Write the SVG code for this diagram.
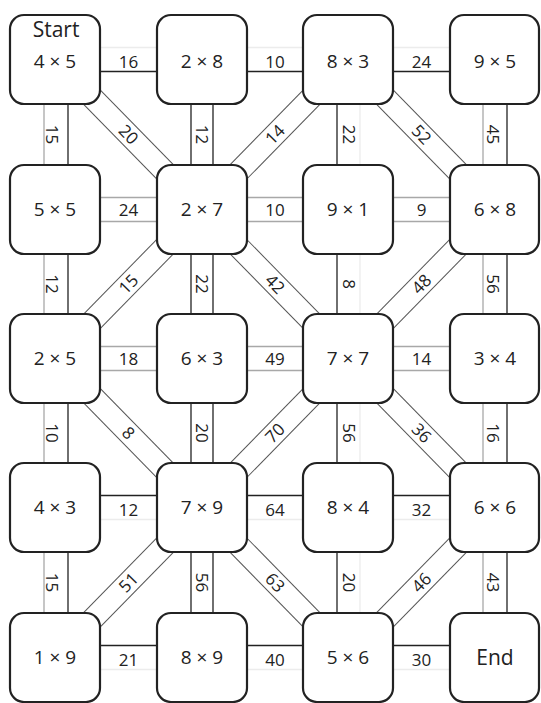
<svg xmlns="http://www.w3.org/2000/svg" width="541" height="703" viewBox="0 0 541 703">
<style>
  .node rect { fill: #fff; stroke: #222; stroke-width: 2.2; }
  .node text { font-family: "Open Sans", "DejaVu Sans", sans-serif; font-size: 19px; fill: #222; text-anchor: middle; }
  .node text.big { font-size: 21px; }
  .c line { stroke-width: 1.3; }
  .k { stroke: #222; }
  .g { stroke: #a8a8a8; }
  .n { stroke: #ececec; }
  .d { stroke: #555; stroke-width: 1 !important; }
  .c text { font-family: "Open Sans", "DejaVu Sans", sans-serif; font-size: 17px; fill: #222; text-anchor: middle; }
</style>
<rect width="541" height="703" fill="#fff"/>
<g id="connectors">
  <!-- Row 1 horizontals -->
  <g class="c" transform="translate(128.5,59.5)"><line class="n" x1="-74" y1="-12" x2="74" y2="-12"/><line class="k" x1="-74" y1="12" x2="74" y2="12"/><text y="8">16</text></g>
  <g class="c" transform="translate(275,59.5)"><line class="n" x1="-74" y1="-12" x2="74" y2="-12"/><line class="k" x1="-74" y1="12" x2="74" y2="12"/><text y="8">10</text></g>
  <g class="c" transform="translate(421.5,59.5)"><line class="n" x1="-74" y1="-12" x2="74" y2="-12"/><line class="k" x1="-74" y1="12" x2="74" y2="12"/><text y="8">24</text></g>
  <!-- Row 2 horizontals -->
  <g class="c" transform="translate(128.5,209.5)"><line class="g" x1="-74" y1="-12" x2="74" y2="-12"/><line class="g" x1="-74" y1="12" x2="74" y2="12"/><text y="6">24</text></g>
  <g class="c" transform="translate(275,209.5)"><line class="g" x1="-74" y1="-12" x2="74" y2="-12"/><line class="g" x1="-74" y1="12" x2="74" y2="12"/><text y="6">10</text></g>
  <g class="c" transform="translate(421.5,209.5)"><line class="g" x1="-74" y1="-12" x2="74" y2="-12"/><line class="g" x1="-74" y1="12" x2="74" y2="12"/><text y="6">9</text></g>
  <!-- Row 3 horizontals -->
  <g class="c" transform="translate(128.5,358.5)"><line class="g" x1="-74" y1="-12" x2="74" y2="-12"/><line class="g" x1="-74" y1="12" x2="74" y2="12"/><text y="6">18</text></g>
  <g class="c" transform="translate(275,358.5)"><line class="g" x1="-74" y1="-12" x2="74" y2="-12"/><line class="g" x1="-74" y1="12" x2="74" y2="12"/><text y="6">49</text></g>
  <g class="c" transform="translate(421.5,358.5)"><line class="g" x1="-74" y1="-12" x2="74" y2="-12"/><line class="g" x1="-74" y1="12" x2="74" y2="12"/><text y="6">14</text></g>
  <!-- Row 4 horizontals -->
  <g class="c" transform="translate(128.5,507.5)"><line class="k" x1="-74" y1="-12" x2="74" y2="-12"/><line class="n" x1="-74" y1="12" x2="74" y2="12"/><text y="8">12</text></g>
  <g class="c" transform="translate(275,507.5)"><line class="k" x1="-74" y1="-12" x2="74" y2="-12"/><line class="n" x1="-74" y1="12" x2="74" y2="12"/><text y="8">64</text></g>
  <g class="c" transform="translate(421.5,507.5)"><line class="k" x1="-74" y1="-12" x2="74" y2="-12"/><line class="n" x1="-74" y1="12" x2="74" y2="12"/><text y="8">32</text></g>
  <!-- Row 5 horizontals -->
  <g class="c" transform="translate(128.5,657.5)"><line class="k" x1="-74" y1="-12" x2="74" y2="-12"/><line class="n" x1="-74" y1="12" x2="74" y2="12"/><text y="8">21</text></g>
  <g class="c" transform="translate(275,657.5)"><line class="k" x1="-74" y1="-12" x2="74" y2="-12"/><line class="n" x1="-74" y1="12" x2="74" y2="12"/><text y="8">40</text></g>
  <g class="c" transform="translate(421.5,657.5)"><line class="k" x1="-74" y1="-12" x2="74" y2="-12"/><line class="n" x1="-74" y1="12" x2="74" y2="12"/><text y="8">30</text></g>
  <!-- Column 1 verticals (local +y = screen left) -->
  <g class="c" transform="translate(56,134.5) rotate(90)"><line class="g" x1="-75" y1="12" x2="75" y2="12"/><line class="k" x1="-75" y1="-12" x2="75" y2="-12"/><text y="10">15</text></g>
  <g class="c" transform="translate(56,284) rotate(90)"><line class="g" x1="-75" y1="12" x2="75" y2="12"/><line class="k" x1="-75" y1="-12" x2="75" y2="-12"/><text y="10">12</text></g>
  <g class="c" transform="translate(56,433) rotate(90)"><line class="g" x1="-75" y1="12" x2="75" y2="12"/><line class="k" x1="-75" y1="-12" x2="75" y2="-12"/><text y="10">10</text></g>
  <g class="c" transform="translate(56,582.5) rotate(90)"><line class="g" x1="-75" y1="12" x2="75" y2="12"/><line class="k" x1="-75" y1="-12" x2="75" y2="-12"/><text y="10">15</text></g>
  <!-- Column 2 verticals -->
  <g class="c" transform="translate(202,134.5) rotate(90)"><line class="k" x1="-75" y1="11" x2="75" y2="11"/><line class="k" x1="-75" y1="-11" x2="75" y2="-11"/><text y="6">12</text></g>
  <g class="c" transform="translate(202,284) rotate(90)"><line class="k" x1="-75" y1="11" x2="75" y2="11"/><line class="k" x1="-75" y1="-11" x2="75" y2="-11"/><text y="6">22</text></g>
  <g class="c" transform="translate(202,433) rotate(90)"><line class="k" x1="-75" y1="11" x2="75" y2="11"/><line class="k" x1="-75" y1="-11" x2="75" y2="-11"/><text y="6">20</text></g>
  <g class="c" transform="translate(202,582.5) rotate(90)"><line class="k" x1="-75" y1="11" x2="75" y2="11"/><line class="k" x1="-75" y1="-11" x2="75" y2="-11"/><text y="6">56</text></g>
  <!-- Column 3 verticals -->
  <g class="c" transform="translate(348,134.5) rotate(90)"><line class="k" x1="-75" y1="11" x2="75" y2="11"/><line class="n" x1="-75" y1="-12" x2="75" y2="-12"/><text y="5">22</text></g>
  <g class="c" transform="translate(348,284) rotate(90)"><line class="k" x1="-75" y1="11" x2="75" y2="11"/><line class="n" x1="-75" y1="-12" x2="75" y2="-12"/><text y="5">8</text></g>
  <g class="c" transform="translate(348,433) rotate(90)"><line class="k" x1="-75" y1="11" x2="75" y2="11"/><line class="n" x1="-75" y1="-12" x2="75" y2="-12"/><text y="5">56</text></g>
  <g class="c" transform="translate(348,582.5) rotate(90)"><line class="k" x1="-75" y1="11" x2="75" y2="11"/><line class="n" x1="-75" y1="-12" x2="75" y2="-12"/><text y="5">20</text></g>
  <!-- Column 4 verticals -->
  <g class="c" transform="translate(495,134.5) rotate(90)"><line class="g" x1="-75" y1="12" x2="75" y2="12"/><line class="k" x1="-75" y1="-12" x2="75" y2="-12"/><text y="8">45</text></g>
  <g class="c" transform="translate(495,284) rotate(90)"><line class="g" x1="-75" y1="12" x2="75" y2="12"/><line class="k" x1="-75" y1="-12" x2="75" y2="-12"/><text y="8">56</text></g>
  <g class="c" transform="translate(495,433) rotate(90)"><line class="g" x1="-75" y1="12" x2="75" y2="12"/><line class="k" x1="-75" y1="-12" x2="75" y2="-12"/><text y="8">16</text></g>
  <g class="c" transform="translate(495,582.5) rotate(90)"><line class="g" x1="-75" y1="12" x2="75" y2="12"/><line class="k" x1="-75" y1="-12" x2="75" y2="-12"/><text y="8">43</text></g>
  <!-- Diagonals -->
  <g class="c" transform="translate(128.5,134.5) rotate(45.6)"><line class="d" x1="-105" y1="-11" x2="105" y2="-11"/><line class="d" x1="-105" y1="11" x2="105" y2="11"/><text y="6">20</text></g>
  <g class="c" transform="translate(275,134.5) rotate(-45.6)"><line class="d" x1="-105" y1="-11" x2="105" y2="-11"/><line class="d" x1="-105" y1="11" x2="105" y2="11"/><text y="6">14</text></g>
  <g class="c" transform="translate(421.5,134.5) rotate(45.6)"><line class="d" x1="-105" y1="-11" x2="105" y2="-11"/><line class="d" x1="-105" y1="11" x2="105" y2="11"/><text y="6">52</text></g>
  <g class="c" transform="translate(128.5,284) rotate(-45.6)"><line class="d" x1="-105" y1="-11" x2="105" y2="-11"/><line class="d" x1="-105" y1="11" x2="105" y2="11"/><text y="6">15</text></g>
  <g class="c" transform="translate(275,284) rotate(45.6)"><line class="d" x1="-105" y1="-11" x2="105" y2="-11"/><line class="d" x1="-105" y1="11" x2="105" y2="11"/><text y="6">42</text></g>
  <g class="c" transform="translate(421.5,284) rotate(-45.6)"><line class="d" x1="-105" y1="-11" x2="105" y2="-11"/><line class="d" x1="-105" y1="11" x2="105" y2="11"/><text y="6">48</text></g>
  <g class="c" transform="translate(128.5,433) rotate(45.6)"><line class="d" x1="-105" y1="-11" x2="105" y2="-11"/><line class="d" x1="-105" y1="11" x2="105" y2="11"/><text y="6">8</text></g>
  <g class="c" transform="translate(275,433) rotate(-45.6)"><line class="d" x1="-105" y1="-11" x2="105" y2="-11"/><line class="d" x1="-105" y1="11" x2="105" y2="11"/><text y="6">70</text></g>
  <g class="c" transform="translate(421.5,433) rotate(45.6)"><line class="d" x1="-105" y1="-11" x2="105" y2="-11"/><line class="d" x1="-105" y1="11" x2="105" y2="11"/><text y="6">36</text></g>
  <g class="c" transform="translate(128.5,582.5) rotate(-45.6)"><line class="d" x1="-105" y1="-11" x2="105" y2="-11"/><line class="d" x1="-105" y1="11" x2="105" y2="11"/><text y="6">51</text></g>
  <g class="c" transform="translate(275,582.5) rotate(45.6)"><line class="d" x1="-105" y1="-11" x2="105" y2="-11"/><line class="d" x1="-105" y1="11" x2="105" y2="11"/><text y="6">63</text></g>
  <g class="c" transform="translate(421.5,582.5) rotate(-45.6)"><line class="d" x1="-105" y1="-11" x2="105" y2="-11"/><line class="d" x1="-105" y1="11" x2="105" y2="11"/><text y="6">46</text></g>
</g>
<g id="n-4x5" class="node"><rect x="10" y="15" width="90" height="89" rx="14"/><text class="big" x="56" y="37">Start</text><text x="55" y="68">4 × 5</text></g>
<g id="n-2x8" class="node"><rect x="157" y="15" width="90" height="89" rx="14"/><text x="202" y="68">2 × 8</text></g>
<g id="n-8x3" class="node"><rect x="303" y="15" width="90" height="89" rx="14"/><text x="348" y="68">8 × 3</text></g>
<g id="n-9x5" class="node"><rect x="450" y="15" width="89" height="89" rx="14"/><text x="495" y="68">9 × 5</text></g>
<g id="n-5x5" class="node"><rect x="10" y="165" width="90" height="89" rx="14"/><text x="55" y="216">5 × 5</text></g>
<g id="n-2x7" class="node"><rect x="157" y="165" width="90" height="89" rx="14"/><text x="202" y="216">2 × 7</text></g>
<g id="n-9x1" class="node"><rect x="303" y="165" width="90" height="89" rx="14"/><text x="348" y="216">9 × 1</text></g>
<g id="n-6x8" class="node"><rect x="450" y="165" width="89" height="89" rx="14"/><text x="495" y="216">6 × 8</text></g>
<g id="n-2x5" class="node"><rect x="10" y="314" width="90" height="89" rx="14"/><text x="55" y="365">2 × 5</text></g>
<g id="n-6x3" class="node"><rect x="157" y="314" width="90" height="89" rx="14"/><text x="202" y="365">6 × 3</text></g>
<g id="n-7x7" class="node"><rect x="303" y="314" width="90" height="89" rx="14"/><text x="348" y="365">7 × 7</text></g>
<g id="n-3x4" class="node"><rect x="450" y="314" width="89" height="89" rx="14"/><text x="495" y="365">3 × 4</text></g>
<g id="n-4x3" class="node"><rect x="10" y="463" width="90" height="89" rx="14"/><text x="55" y="514">4 × 3</text></g>
<g id="n-7x9" class="node"><rect x="157" y="463" width="90" height="89" rx="14"/><text x="202" y="514">7 × 9</text></g>
<g id="n-8x4" class="node"><rect x="303" y="463" width="90" height="89" rx="14"/><text x="348" y="514">8 × 4</text></g>
<g id="n-6x6" class="node"><rect x="450" y="463" width="89" height="89" rx="14"/><text x="495" y="514">6 × 6</text></g>
<g id="n-1x9" class="node"><rect x="10" y="613" width="90" height="89" rx="14"/><text x="55" y="664">1 × 9</text></g>
<g id="n-8x9" class="node"><rect x="157" y="613" width="90" height="89" rx="14"/><text x="202" y="664">8 × 9</text></g>
<g id="n-5x6" class="node"><rect x="303" y="613" width="90" height="89" rx="14"/><text x="348" y="664">5 × 6</text></g>
<g id="n-end" class="node"><rect x="450" y="613" width="89" height="89" rx="14"/><text class="big" x="495" y="665">End</text></g>
</svg>
